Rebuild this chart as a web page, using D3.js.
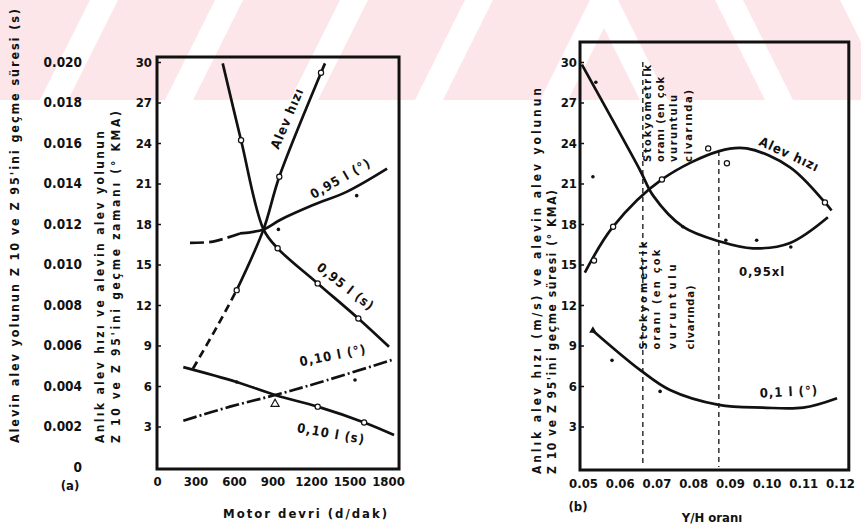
<!DOCTYPE html>
<html>
<head>
<meta charset="utf-8">
<script src="https://cdn.jsdelivr.net/npm/d3@7"></script>
<style>
body { margin: 0; background: #fff; }
text { font-family: 'Liberation Sans Narrow', 'DejaVu Sans Condensed', 'Liberation Sans', sans-serif; font-weight: bold; fill: #111; }
</style>
</head>
<body>
<svg width="861" height="526"></svg>
<script>
// ---- panel (a): motor devri ----
let rpmTicks = [0, 300, 600, 900, 1200, 1500, 1800]
let degTicks = [3, 6, 9, 12, 15, 18, 21, 24, 27, 30]
let secTicks = [0, 0.002, 0.004, 0.006, 0.008, 0.010, 0.012, 0.014, 0.016, 0.018, 0.020]

let alevDashA = [[281, 7.3], [468, 10.4], [621, 13.1]]
let alevA = [[621, 13.1], [830, 17.6], [953, 21.5], [1278, 29.2], [1309, 29.9]]
let l95degDash = [[257, 16.6], [436, 16.7], [647, 17.3]]
let l95deg = [[647, 17.3], [830, 17.6], [959, 18.3], [1216, 19.4], [1481, 20.4], [1793, 22.1]]
let l95s = [[512, 29.9], [655, 24.2], [830, 17.6], [940, 16.2], [1252, 13.6], [1569, 11.0], [1808, 8.9]]
let l10s = [[205, 7.4], [621, 6.3], [920, 5.33], [1252, 4.47], [1614, 3.3], [1847, 2.37]]
let l10deg = [[205, 3.43], [569, 4.47], [920, 5.33], [1245, 6.2], [1847, 7.98]]
let circlesA = [[621, 13.1], [953, 21.5], [1278, 29.2], [655, 24.2], [940, 16.2], [1252, 13.6], [1569, 11.0], [1252, 4.47], [1614, 3.3]]
let dotsA = [[946, 17.6], [1556, 20.1], [1543, 6.44], [621, 6.3]]
let triA = [[920, 4.67]]

// ---- panel (b): Y/H orani ----
let ratioTicks = [0.05, 0.06, 0.07, 0.08, 0.09, 0.10, 0.11, 0.12]
let ratioLabels = ['0.05', '0.06', '0.07', '0.08', '0.09', '0.10', '0.11', '0.12']
let fall95 = [[0.0497, 29.8], [0.0655, 22.0], [0.0691, 20.1], [0.0772, 17.8], [0.0873, 16.7], [0.0963, 16.2], [0.1064, 16.6], [0.1167, 18.5]]
let alevB = [[0.0505, 14.4], [0.0582, 17.8], [0.0715, 21.3], [0.0871, 23.4], [0.0946, 23.6], [0.1064, 22.2], [0.1159, 19.6], [0.1177, 19.0]]
let l01deg = [[0.0527, 10.1], [0.0655, 7.2], [0.0737, 5.7], [0.087, 4.6], [0.099, 4.4], [0.11, 4.4], [0.1192, 5.1]]
let circlesB = [[0.053, 15.3], [0.0582, 17.8], [0.0715, 21.3], [0.0841, 23.6], [0.0892, 22.5], [0.1159, 19.6]]
let dotsB = [[0.0535, 28.5], [0.0527, 21.5], [0.0772, 17.8], [0.0889, 16.8], [0.0973, 16.8], [0.1066, 16.3], [0.0579, 7.9], [0.071, 5.6]]
let triB = [[0.0527, 10.1]]
let stoich = [[0.0663, 30], [0.0870, 23.4]]

let svg = d3.select('svg')

// faded watermark band at the top
svg.append('clipPath').attr('id', 'wmclip')
  .append('rect').attr('width', 861).attr('height', 100)
let wmg = svg.append('g').attr('clip-path', 'url(#wmclip)')
wmg.append('rect').attr('width', 861).attr('height', 100).attr('fill', '#fce6ea')
d3.range(-2, 5).forEach(i => {
  let x0 = 40 + i * 125
  wmg.append('polygon')
    .attr('points', [[x0, 100], [x0 + 28, 100], [x0 + 78, 0], [x0 + 50, 0]].join(' '))
    .attr('fill', '#fff')
})
d3.range(0, 5).forEach(i => {
  let x0 = 590 + i * 125
  wmg.append('polygon')
    .attr('points', [[x0, 0], [x0 + 28, 0], [x0 + 78, 100], [x0 + 50, 100]].join(' '))
    .attr('fill', '#fff')
})

let y = d3.scaleLinear().domain([0, 30]).range([467, 62])
let ySec = d3.scaleLinear().domain([0, 0.020]).range([467, 62])
let xA = d3.scaleLinear().domain([0, 1800]).range([157, 388])
let xB = d3.scaleLinear().domain([0.05, 0.12]).range([583, 840])

let lineA = d3.line().x(d => xA(d[0])).y(d => y(d[1])).curve(d3.curveCatmullRom)
let lineB = d3.line().x(d => xB(d[0])).y(d => y(d[1])).curve(d3.curveCatmullRom)

let ink = '#111'

let styleAxis = g => {
  g.attr('font-family', null).attr('font-size', 13)
  g.select('.domain').remove()
  g.selectAll('.tick line').attr('stroke', ink).attr('stroke-width', 1.5)
}

// ---- panel (a) ----
let pa = svg.append('g')

pa.append('g')
  .attr('transform', 'translate(157,0)')
  .call(d3.axisLeft(y).tickValues(degTicks).tickSize(-4).tickPadding(5))
  .call(styleAxis)

pa.append('g')
  .attr('transform', 'translate(82,0)')
  .call(d3.axisLeft(ySec).tickValues(secTicks).tickSize(0).tickPadding(0)
    .tickFormat(d => d === 0 ? '0' : d3.format('.3f')(d)))
  .call(styleAxis)
  .attr('font-size', 13.5)

pa.append('g')
  .attr('transform', 'translate(0,469)')
  .call(d3.axisBottom(xA).tickValues(rpmTicks).tickSize(0).tickPadding(8)
    .tickFormat(d3.format('d')))
  .call(styleAxis)

pa.append('rect')
  .attr('x', xA(0)).attr('y', y(30) - 5)
  .attr('width', xA(1886) - xA(0)).attr('height', y(0) - y(30) + 7)
  .attr('fill', 'none').attr('stroke', ink).attr('stroke-width', 3)

let curvesA = [
  [alevDashA, '8,5'], [alevA, null],
  [l95degDash, '14,5'], [l95deg, null],
  [l95s, null], [l10s, null], [l10deg, '14,3,2,3']
]
curvesA.forEach(c => {
  pa.append('path').datum(c[0])
    .attr('d', lineA)
    .attr('fill', 'none').attr('stroke', ink).attr('stroke-width', 2.7)
    .attr('stroke-dasharray', c[1])
})

pa.selectAll('.ca').data(circlesA).enter().append('circle')
  .attr('cx', d => xA(d[0])).attr('cy', d => y(d[1])).attr('r', 2.6)
  .attr('fill', '#fff').attr('stroke', ink).attr('stroke-width', 1.2)
pa.selectAll('.da').data(dotsA).enter().append('circle')
  .attr('cx', d => xA(d[0])).attr('cy', d => y(d[1])).attr('r', 1.8)
  .attr('fill', ink)
pa.selectAll('.ta').data(triA).enter().append('path')
  .attr('d', d3.symbol(d3.symbolTriangle, 28))
  .attr('transform', d => 'translate(' + xA(d[0]) + ',' + y(d[1]) + ')')
  .attr('fill', '#fff').attr('stroke', ink).attr('stroke-width', 1.2)

let labelsA = [
  ['Alev hızı', 1021, 25.8, -67],
  ['0,95 l (°)', 1434, 21.3, -30],
  ['0,95 l (s)', 1465, 13.3, 38],
  ['0,10 l (°)', 1372, 8.2, -11],
  ['0,10 l (s)', 1356, 2.4, 10]
]
labelsA.forEach(l => {
  pa.append('text')
    .attr('transform', 'translate(' + xA(l[1]) + ',' + y(l[2]) + ') rotate(' + l[3] + ')')
    .attr('text-anchor', 'middle').attr('dominant-baseline', 'middle')
    .attr('font-size', 13).attr('letter-spacing', 1)
    .text(l[0])
})

pa.append('text')
  .attr('transform', 'translate(19,443) rotate(-90)')
  .attr('font-size', 12.5).attr('textLength', 434).attr('lengthAdjust', 'spacing')
  .text("Alevin alev yolunun Z 10 ve Z 95'ini geçme süresi (s)")
pa.append('text')
  .attr('transform', 'translate(104,443) rotate(-90)')
  .attr('font-size', 12).attr('textLength', 312).attr('lengthAdjust', 'spacing')
  .text('Anlık alev hızı ve alevin alev yolunun')
pa.append('text')
  .attr('transform', 'translate(120,443) rotate(-90)')
  .attr('font-size', 12).attr('textLength', 332).attr('lengthAdjust', 'spacing')
  .text("Z 10 ve Z 95'ini geçme zamanı (° KMA)")

pa.append('text').attr('x', 70).attr('y', 490).attr('text-anchor', 'middle')
  .attr('font-size', 13).text('(a)')
pa.append('text').attr('x', 305).attr('y', 518).attr('text-anchor', 'middle')
  .attr('font-size', 13).attr('textLength', 164).attr('lengthAdjust', 'spacing')
  .text('Motor devri (d/dak)')

// ---- panel (b) ----
let pb = svg.append('g')

pb.append('g')
  .attr('transform', 'translate(580,0)')
  .call(d3.axisLeft(y).tickValues(degTicks).tickSize(-4).tickPadding(3))
  .call(styleAxis)

pb.append('g')
  .attr('transform', 'translate(0,470)')
  .call(d3.axisBottom(xB).tickValues(ratioTicks).tickSize(0).tickPadding(9)
    .tickFormat((d, i) => ratioLabels[i]))
  .call(styleAxis)

pb.append('rect')
  .attr('x', xB(0.05) - 3).attr('y', y(30) - 20)
  .attr('width', xB(0.1224) - xB(0.05) + 3).attr('height', y(0) - y(30) + 23)
  .attr('fill', 'none').attr('stroke', ink).attr('stroke-width', 3)

pb.selectAll('.st').data(stoich).enter().append('line')
  .attr('x1', d => xB(d[0])).attr('x2', d => xB(d[0]))
  .attr('y1', d => y(d[1])).attr('y2', y(0))
  .attr('stroke', ink).attr('stroke-width', 1.3).attr('stroke-dasharray', '5,4')

let curvesB = [fall95, alevB, l01deg]
curvesB.forEach(c => {
  pb.append('path').datum(c)
    .attr('d', lineB)
    .attr('fill', 'none').attr('stroke', ink).attr('stroke-width', 2.7)
})

pb.selectAll('.cb').data(circlesB).enter().append('circle')
  .attr('cx', d => xB(d[0])).attr('cy', d => y(d[1])).attr('r', 2.6)
  .attr('fill', '#fff').attr('stroke', ink).attr('stroke-width', 1.2)
pb.selectAll('.db').data(dotsB).enter().append('circle')
  .attr('cx', d => xB(d[0])).attr('cy', d => y(d[1])).attr('r', 1.8)
  .attr('fill', ink)
pb.selectAll('.tb').data(triB).enter().append('path')
  .attr('d', d3.symbol(d3.symbolTriangle, 24))
  .attr('transform', d => 'translate(' + xB(d[0]) + ',' + y(d[1]) + ')')
  .attr('fill', ink)

let labelsB = [
  ['Alev hızı', 0.1061, 23.1, 25],
  ['0,95xl', 0.0988, 14.4, 0],
  ['0,1 l (°)', 0.1061, 5.5, -3]
]
labelsB.forEach(l => {
  pb.append('text')
    .attr('transform', 'translate(' + xB(l[1]) + ',' + y(l[2]) + ') rotate(' + l[3] + ')')
    .attr('text-anchor', 'middle').attr('dominant-baseline', 'middle')
    .attr('font-size', 13).attr('letter-spacing', 1)
    .text(l[0])
})

// notes beside the stoichiometric line
let note = ['Stokyometrik', 'oranı (en çok', 'vuruntulu', 'civarında)']
let noteTopX = [8, 21, 34, 49]
let noteTopLen = [97, 85, 67, 72]
let noteLowX = [4, 17, 33, 51]
let noteLowLen = [108, 100, 85, 64]
note.forEach((t, i) => {
  pb.append('text')
    .attr('transform', 'translate(' + (xB(0.0663) + noteTopX[i]) + ',' + y(22.6) + ') rotate(-90)')
    .attr('font-size', 11).attr('textLength', noteTopLen[i]).attr('lengthAdjust', 'spacing')
    .text(t)
  pb.append('text')
    .attr('transform', 'translate(' + (xB(0.0663) + noteLowX[i]) + ',' + y(8.7) + ') rotate(-90)')
    .attr('font-size', 11).attr('textLength', noteLowLen[i]).attr('lengthAdjust', 'spacing')
    .text(t)
})

pb.append('text')
  .attr('transform', 'translate(541,474) rotate(-90)')
  .attr('font-size', 12).attr('textLength', 386).attr('lengthAdjust', 'spacing')
  .text('Anlık alev hızı (m/s) ve alevin alev yolunun')
pb.append('text')
  .attr('transform', 'translate(556,474) rotate(-90)')
  .attr('font-size', 12).attr('textLength', 284).attr('lengthAdjust', 'spacing')
  .text("Z 10 ve Z 95'ini geçme süresi (° KMA)")

pb.append('text').attr('x', 578).attr('y', 511).attr('text-anchor', 'middle')
  .attr('font-size', 13).text('(b)')
pb.append('text').attr('x', 712).attr('y', 522).attr('text-anchor', 'middle')
  .attr('font-size', 13).text('Y/H oranı')
</script>
</body>
</html>
